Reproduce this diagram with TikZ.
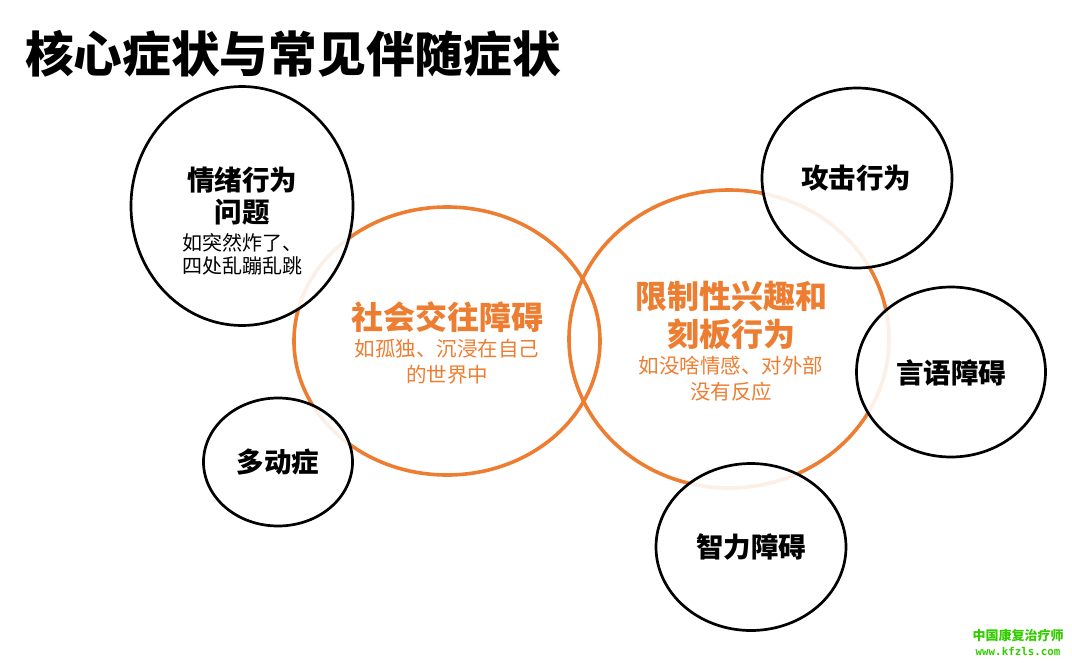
\documentclass[tikz,border=0pt]{standalone}
\usepackage{fontspec}
\setmainfont{Noto Sans CJK SC}
\newfontfamily\urlfont{DejaVu Sans Mono}
\usepackage{xcolor}
\usepackage{tikz}
\usetikzlibrary{shapes.geometric,positioning}
\definecolor{core}{HTML}{ED7D31}
\definecolor{mark}{HTML}{33CC00}

\begin{document}
\begin{tikzpicture}[
  x=1pt, y=-1pt,
  corering/.style={ellipse, draw=core, line width=3.6pt, inner sep=0pt},
  sidering/.style={ellipse, draw=black, line width=2.7pt, fill=white, fill opacity=0.88, text opacity=1, inner sep=0pt},
  corehead/.style={font=\bfseries\fontsize{32}{38}\selectfont, text=core, align=center},
  corenote/.style={font=\fontsize{20.5}{26}\selectfont, text=core, align=center},
  sidehead/.style={font=\bfseries\fontsize{27.5}{32}\selectfont, align=center},
  sidenote/.style={font=\fontsize{20}{23}\selectfont, align=center}
]
\useasboundingbox (0,0) rectangle (1072,662);

% ---- Title ----
\node[anchor=west, font=\bfseries\fontsize{48.7}{52}\selectfont, inner sep=0pt] (title) at (25,54) {核心症状与常见伴随症状};

% ---- Core symptoms ----
\node[corering, minimum width=306, minimum height=268] (socring) at (447,341) {};
\node[corering, minimum width=320, minimum height=298] (rrbring) at (729,339) {};

% ---- Accompanying symptoms ----
\node[sidering, minimum width=222, minimum height=239] (emoring) at (242,206) {};
\node[sidering, minimum width=149, minimum height=128] (adhdring) at (278,462) {};
\node[sidering, minimum width=190, minimum height=180] (aggring) at (857,178) {};
\node[sidering, minimum width=189, minimum height=170] (langring) at (951,372) {};
\node[sidering, minimum width=190, minimum height=167] (iqring) at (751,547) {};

% ---- Texts ----
\node[corehead] (sochead) at (447,317) {社会交往障碍};
\node[corenote] (socnote) at (447,362) {如孤独、沉浸在自己\\的世界中};
\node[corehead] (rrbhead) at (731,315) {限制性兴趣和\\刻板行为};
\node[corenote] (rrbnote) at (731,379) {如没啥情感、对外部\\没有反应};

\node[sidehead] (emohead) at (242,196) {情绪行为\\问题};
\node[sidenote] (emonote) at (242,254.5) {如突然炸了、\\四处乱蹦乱跳};
\node[sidehead] (adhdhead) at (278,462) {多动症};
\node[sidehead] (agghead) at (856,178) {攻击行为};
\node[sidehead] (langhead) at (951,373) {言语障碍};
\node[sidehead] (iqhead) at (751,547) {智力障碍};

% ---- Watermark ----
\node[font=\bfseries\fontsize{13}{14}\selectfont, text=mark, inner sep=0pt] (markcn) at (1018,636) {中国康复治疗师};
\node[font=\urlfont\bfseries\fontsize{10.8}{12}\selectfont, text=mark, inner sep=0pt] (markurl) at (1018,651) {www.kfzls.com};

\end{tikzpicture}
\end{document}
